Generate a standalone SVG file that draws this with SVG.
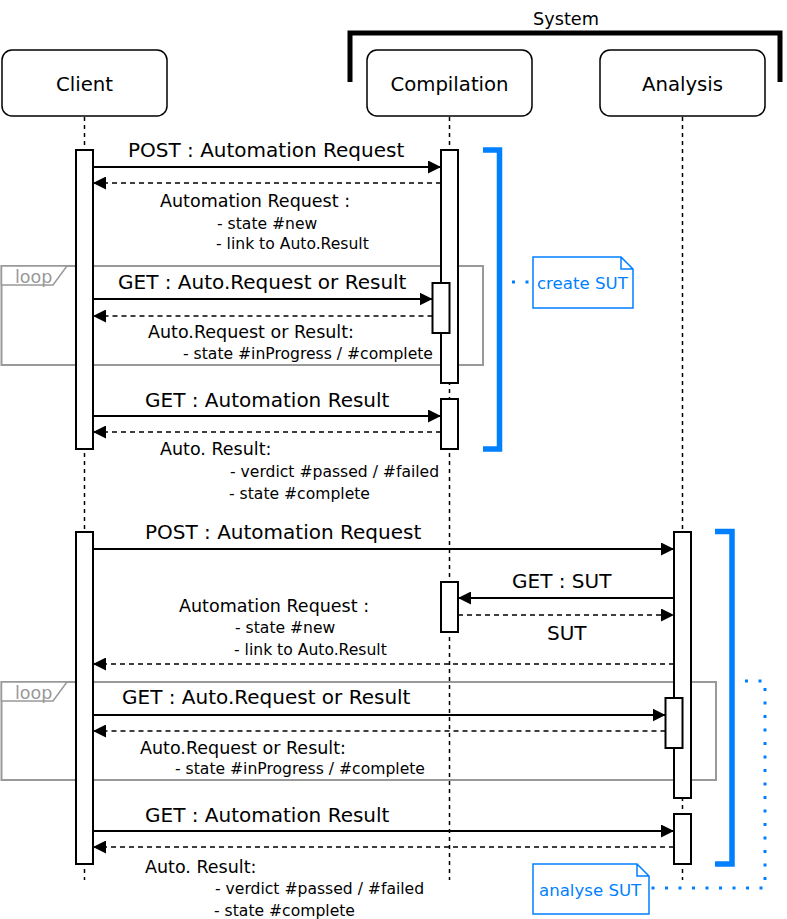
<svg xmlns="http://www.w3.org/2000/svg" width="787" height="919" viewBox="0 0 787 919">
<style>
text{font-family:"DejaVu Sans","Liberation Sans",sans-serif;fill:#000}
.hd{font-size:19.7px;text-anchor:middle}
.m{font-size:20px}
.s{font-size:17.5px}
.d{font-size:15.6px}
.sys{font-size:17.7px}
.lp{font-size:17.5px;fill:#999}
.nt{font-size:16.6px;fill:#007FFF}
.box{fill:#fff;stroke:#000;stroke-width:1.5}
.life{stroke:#000;stroke-width:1.5;stroke-dasharray:4 4;fill:none}
.act{fill:#fff;stroke:#000;stroke-width:2}
.msg{stroke:#000;stroke-width:2;fill:none;marker-end:url(#ah)}
.ret{stroke:#000;stroke-width:1.5;stroke-dasharray:5 4;fill:none;marker-end:url(#ah)}
.loop{fill:none;stroke:#999;stroke-width:2}
.tag{fill:#fff;stroke:#999;stroke-width:1.5}
.br{fill:none;stroke:#007FFF;stroke-width:5.5}
.note{fill:#fff;stroke:#007FFF;stroke-width:1.5}
.dot{fill:none;stroke:#007FFF;stroke-width:3;stroke-dasharray:3 10.5}
</style>
<defs>
<marker id="ah" markerUnits="userSpaceOnUse" markerWidth="13" markerHeight="13" refX="13" refY="6.5" orient="auto">
<path d="M0,0 L13,6.5 L0,13 z" fill="#000"/>
</marker>
</defs>

<g id="system">
<path d="M350,82 V33 H780 V82" fill="none" stroke="#000" stroke-width="5"/>
<text class="sys" x="533" y="25">System</text>
</g>

<g id="lifelines">
<line class="life" x1="84.5" y1="117" x2="84.5" y2="880"/>
<line class="life" x1="449.5" y1="117" x2="449.5" y2="880"/>
<line class="life" x1="682.5" y1="117" x2="682.5" y2="880"/>
</g>

<g id="client">
<rect class="box" x="2" y="50" width="165" height="66" rx="10"/>
<text class="hd" x="84.5" y="91">Client</text>
</g>
<g id="compilation">
<rect class="box" x="367" y="50" width="165" height="66" rx="10"/>
<text class="hd" x="449.5" y="91">Compilation</text>
</g>
<g id="analysis">
<rect class="box" x="600" y="50" width="165" height="66" rx="10"/>
<text class="hd" x="682.5" y="91">Analysis</text>
</g>

<g id="loops">
<rect class="loop" x="1.5" y="266" width="481.5" height="99"/>
<path class="tag" d="M1.5,266 H67 L53,285 H1.5 z"/>
<text class="lp" x="15" y="282.5">loop</text>
<rect class="loop" x="1.5" y="682" width="714.5" height="98"/>
<path class="tag" d="M1.5,682 H67 L53,701 H1.5 z"/>
<text class="lp" x="15" y="698.5">loop</text>
</g>

<g id="activations">
<rect class="act" x="76" y="150" width="17" height="299"/>
<rect class="act" x="441" y="150" width="17" height="233"/>
<rect class="act" x="432.5" y="283" width="17" height="50"/>
<rect class="act" x="441" y="399" width="17" height="50"/>
<rect class="act" x="76" y="532" width="17" height="332"/>
<rect class="act" x="674" y="532" width="17" height="266"/>
<rect class="act" x="441" y="582" width="17" height="50"/>
<rect class="act" x="665.5" y="698" width="17" height="50"/>
<rect class="act" x="674" y="814" width="17" height="50"/>
</g>

<g id="connectors">
<line class="msg" x1="93" y1="167" x2="441" y2="167"/>
<line class="ret" x1="441" y1="183" x2="93" y2="183"/>
<line class="msg" x1="93" y1="299" x2="432.5" y2="299"/>
<line class="ret" x1="432.5" y1="316" x2="93" y2="316"/>
<line class="msg" x1="93" y1="416" x2="441" y2="416"/>
<line class="ret" x1="441" y1="432" x2="93" y2="432"/>
<line class="msg" x1="93" y1="549" x2="674" y2="549"/>
<line class="msg" x1="674" y1="598" x2="458" y2="598"/>
<line class="ret" x1="458" y1="615" x2="674" y2="615"/>
<line class="ret" x1="674" y1="664" x2="93" y2="664"/>
<line class="msg" x1="93" y1="715" x2="665.5" y2="715"/>
<line class="ret" x1="665.5" y1="731" x2="93" y2="731"/>
<line class="msg" x1="93" y1="831" x2="674" y2="831"/>
<line class="ret" x1="674" y1="847" x2="93" y2="847"/>
<path class="dot" d="M512,282 H532"/>
<path class="dot" d="M745,681 H765 V888 H650"/>
</g>

<g id="labels">
<text class="m" x="128" y="157">POST : Automation Request</text>
<text class="s" x="160" y="207">Automation Request :</text>
<text class="d" x="217" y="229">- state #new</text>
<text class="d" x="216" y="249">- link to Auto.Result</text>
<text class="m" x="118" y="289">GET : Auto.Request or Result</text>
<text class="s" x="148" y="338">Auto.Request or Result:</text>
<text class="d" x="183" y="359">- state #inProgress / #complete</text>
<text class="m" x="145" y="407">GET : Automation Result</text>
<text class="s" x="160" y="455">Auto. Result:</text>
<text class="d" x="230" y="477">- verdict #passed / #failed</text>
<text class="d" x="229" y="499">- state #complete</text>
<text class="m" x="145" y="539">POST : Automation Request</text>
<text class="m" x="512" y="588">GET : SUT</text>
<text class="m" x="547" y="640">SUT</text>
<text class="s" x="179" y="612">Automation Request :</text>
<text class="d" x="235" y="633">- state #new</text>
<text class="d" x="234" y="655">- link to Auto.Result</text>
<text class="m" x="122" y="704">GET : Auto.Request or Result</text>
<text class="s" x="140" y="754">Auto.Request or Result:</text>
<text class="d" x="175" y="774">- state #inProgress / #complete</text>
<text class="m" x="145" y="822">GET : Automation Result</text>
<text class="s" x="145" y="873">Auto. Result:</text>
<text class="d" x="215" y="894">- verdict #passed / #failed</text>
<text class="d" x="214" y="916">- state #complete</text>
</g>

<g id="bracket-create">
<path class="br" d="M483,150 H499.5 V449 H483"/>
</g>
<g id="note-create">
<path class="note" d="M533,257 H621 L633,269 V308 H533 z M621,257 V269 H633" />
<text class="nt" x="537" y="289">create SUT</text>
</g>
<g id="bracket-analyse">
<path class="br" d="M715,531.5 H732 V864 H715"/>
</g>
<g id="note-analyse">
<path class="note" d="M533,864 H637 L649,876 V914 H533 z M637,864 V876 H649"/>
<text class="nt" x="539" y="896">analyse SUT</text>
</g>
</svg>
